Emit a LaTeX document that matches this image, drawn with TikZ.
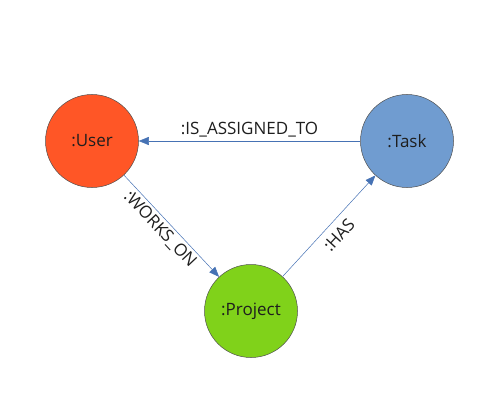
\documentclass[tikz,border=0pt]{standalone}
\usepackage{fontspec}
\setmainfont{Open Sans}
\usetikzlibrary{arrows.meta}
\definecolor{usercol}{RGB}{255,86,38}
\definecolor{taskcol}{RGB}{112,156,208}
\definecolor{projcol}{RGB}{128,210,26}
\definecolor{relcol}{RGB}{70,114,180}
\definecolor{rimcol}{RGB}{80,80,80}
\definecolor{txtcol}{RGB}{30,30,30}
\begin{document}
\begin{tikzpicture}[x=1pt,y=-1pt,
  entity/.style={circle,draw=rimcol,line width=.5pt,minimum size=93pt,inner sep=0pt,
    font=\fontsize{17}{20}\selectfont,text=txtcol},
  rel/.style={draw=relcol,line width=.5pt,-{Triangle[length=10pt,width=8pt]}},
  lbl/.style={font=\fontsize{17}{20}\selectfont,text=txtcol}]
\useasboundingbox (0,0) rectangle (500,414);
\node[name=U,entity,fill=usercol] at (92,141) {:User};
\node[name=T,entity,fill=taskcol] at (407,141) {:Task};
\node[name=P,entity,fill=projcol] at (251,311) {:Project};

\draw[rel] (T) to node[lbl,above,inner sep=4pt] {:IS\_ASSIGNED\_TO} (U);
\draw[rel] (U) to node[lbl,sloped,below,pos=.46,inner sep=3pt] {:WORKS\_ON} (P);
\draw[rel] (P) to node[lbl,sloped,below,pos=.5,inner sep=7pt] {:HAS} (T);
\end{tikzpicture}
\end{document}
